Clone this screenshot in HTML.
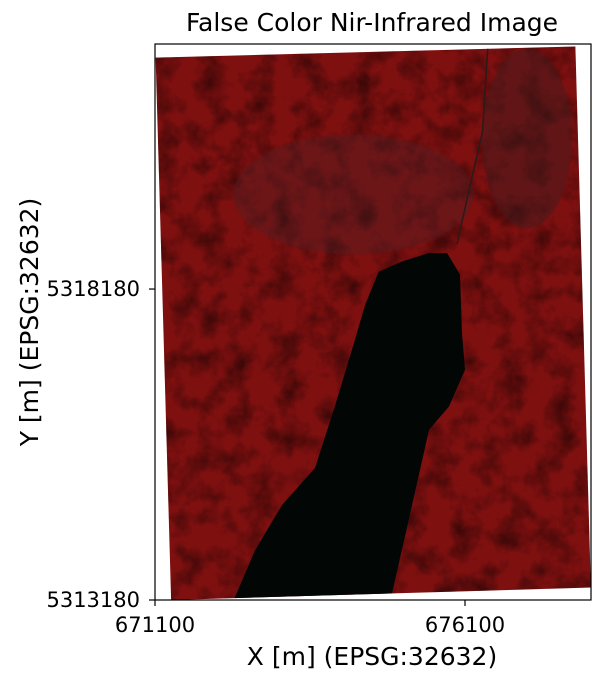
<!DOCTYPE html>
<html><head><meta charset="utf-8"><style>
body{margin:0;background:#fff;}
svg text{font-family:"DejaVu Sans","Liberation Sans",sans-serif;fill:#000;}
</style></head><body>
<svg id="chart" width="605" height="682" viewBox="0 0 605 682" xmlns="http://www.w3.org/2000/svg">
<defs>
<filter id="tex" x="0" y="0" width="100%" height="100%">
<feTurbulence type="fractalNoise" baseFrequency="0.04" numOctaves="4" seed="4" result="n"/>
<feColorMatrix in="n" type="matrix" values="0 0 0 0 0  0 0 0 0 0  0 0 0 0 0  0 0 0 -1.8 1.05" result="dark"/>
<feComposite in="dark" in2="SourceGraphic" operator="in"/>
</filter>
<clipPath id="imgclip"><polygon id="clipPoly"/></clipPath>
</defs>
<g id="plot"></g>
</svg>
<script>
const xTicks=[671100,676100];
const yTicks=[5313180,5318180];
const xDomain=[671100,678132];
const yDomain=[5313180,5322120];
// image footprint corners (map coords)
const footX=[671110,677880,678130,671360];
const footY=[5321900,5322080,5313380,5313180];
// lake outline (map coords)
const lakeX=[672370,672710,673150,673680,674000,674330,674490,674710,675080,675520,675810,676020,676050,676100,675840,675520,675190,674920];
const lakeY=[5313180,5313970,5314710,5315300,5316290,5317380,5317930,5318460,5318620,5318760,5318760,5318410,5317490,5316880,5316290,5315920,5314460,5313280];

const L=155,R=591,T=44,B=600;
const sx=v=>L+(v-xDomain[0])/(xDomain[1]-xDomain[0])*(R-L);
const sy=v=>B-(v-yDomain[0])/(yDomain[1]-yDomain[0])*(B-T);
const NS="http://www.w3.org/2000/svg";
const g=document.getElementById('plot');
function mk(t,a,p){const e=document.createElementNS(NS,t);for(const k in a)e.setAttribute(k,a[k]);(p||g).appendChild(e);return e;}
const foot=footX.map((x,i)=>sx(x)+','+sy(footY[i])).join(' ');
document.getElementById('clipPoly').setAttribute('points',foot);
const img=mk('g',{'clip-path':'url(#imgclip)'});


mk('rect',{x:L,y:T,width:R-L,height:B-T,fill:'#7e1010'},img);
mk('rect',{x:L,y:T,width:R-L,height:B-T,fill:'#380606',filter:'url(#tex)',opacity:0.6},img);
mk('ellipse',{cx:sx(674300),cy:sy(5319700),rx:120,ry:60,fill:'#4a2228',opacity:0.35},img);
mk('ellipse',{cx:sx(677100),cy:sy(5320600),rx:45,ry:90,fill:'#3e1c20',opacity:0.45},img);
const river=mk('polyline',{points:[[676470,5322100],[676380,5320700],[676150,5319700],[675970,5318900]].map(p=>sx(p[0])+','+sy(p[1])).join(' '),fill:'none',stroke:'#2a1a1a','stroke-width':1.5},img);


const lake=mk('polygon',{points:lakeX.map((x,i)=>sx(x)+','+sy(lakeY[i])).join(' '),fill:'#020604'},img);


const fr=mk('rect',{x:L,y:T,width:R-L,height:B-T,fill:'none',stroke:'#000','stroke-width':1.2});


xTicks.forEach(v=>{
  mk('line',{x1:sx(v),x2:sx(v),y1:B,y2:B+6,stroke:'#000','stroke-width':1.2});
  const t=mk('text',{x:sx(v),y:B+32,'text-anchor':'middle','font-size':21});t.textContent=v;
  
  
});
yTicks.forEach(v=>{
  mk('line',{x1:L-6,x2:L,y1:sy(v),y2:sy(v),stroke:'#000','stroke-width':1.2});
  const t=mk('text',{x:L-15,y:sy(v)+7,'text-anchor':'end','font-size':21});t.textContent=v;
  
  
});
const xt=mk('text',{x:372,y:665,'text-anchor':'middle','font-size':25});xt.textContent='X [m] (EPSG:32632)';


const yt=mk('text',{x:0,y:0,'text-anchor':'middle','font-size':25,transform:'translate(38,322) rotate(-90)'});yt.textContent='Y [m] (EPSG:32632)';


const tt=mk('text',{x:372,y:31,'text-anchor':'middle','font-size':25});tt.textContent='False Color Nir-Infrared Image';


</script>
</body></html>
